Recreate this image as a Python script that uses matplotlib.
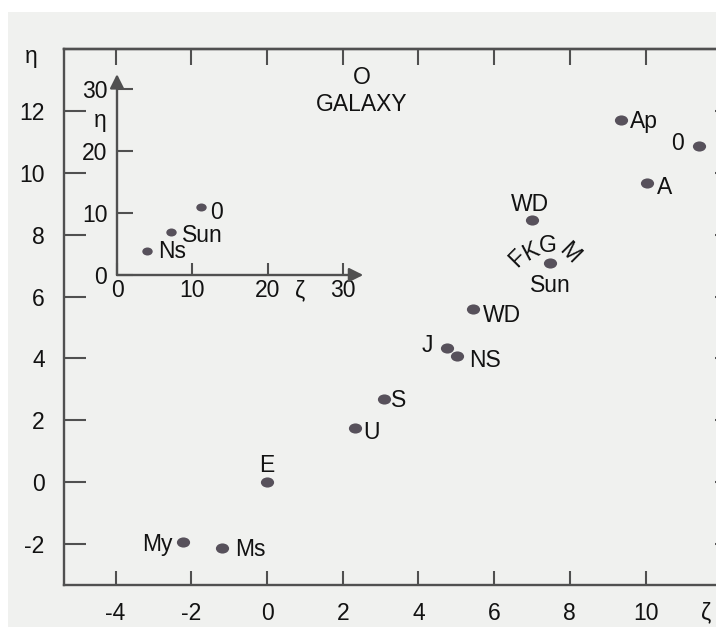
import numpy as np
import matplotlib
matplotlib.use('Agg')
import matplotlib.pyplot as plt
from matplotlib.path import Path
from matplotlib.patches import Rectangle

plt.rcParams['font.family'] = ['Liberation Sans', 'DejaVu Sans']
plt.rcParams['axes.unicode_minus'] = False

# ---------------- data ----------------
main_labels = ['My', 'Ms', 'E', 'U', 'S', 'J', 'NS', 'WD', 'WD', 'Sun', 'Ap', 'A', '0']
main_zeta = [-2.23, -1.20, 0.0, 2.32, 3.09, 4.75, 5.01, 5.45, 7.01, 7.48, 9.34, 10.03, 11.42]
main_eta = [-1.95, -2.15, 0.0, 1.74, 2.68, 4.33, 4.08, 5.59, 8.48, 7.08, 11.72, 9.69, 10.88]

galaxy_zeta = 2.51
galaxy_eta = 13.1

spectral_letters = ['F', 'K', 'G', 'M']

inset_labels = ['Ns', 'Sun', '0']
inset_zeta = [4.0, 7.2, 11.1]
inset_eta = [3.9, 6.9, 10.9]

main_xticks = [-4, -2, 0, 2, 4, 6, 8, 10]
main_yticks = [-2, 0, 2, 4, 6, 8, 10, 12]
inset_xticks = [0, 10, 20, 30]
inset_yticks = [0, 10, 20, 30]

# ---------------- styles / layout ----------------
W, H = 716, 627
BG = '#f0f1ef'
LINE = '#505050'
DOT = '#57515b'
TXT = '#121212'
FS = 16.5
LFS = 16.5

# label offsets in pixels (dx, dy downward to baseline), alignment
main_offsets = [(-10, 9, 'right'), (14, 8, 'left'), (0, -10, 'center'),
                (8, 11, 'left'), (7, 8, 'left'), (-14, 4, 'right'),
                (12, 11, 'left'), (10, 13, 'left'), (-2, -9, 'center'),
                (0, 29, 'center'), (9, 8, 'left'), (10, 11, 'left'),
                (-15, 4, 'right')]
inset_offsets = [(11, 7), (11, 10), (10, 12)]
spectral_offsets = [(-33, -5, 45), (-19, -12, 28), (-2, -18, 0), (19, -10, -45)]

fig = plt.figure(figsize=(W / 100, H / 100), dpi=100)
fig.patch.set_facecolor('white')
fig.patches.append(Rectangle((8 / W, 0), 1, (H - 12) / H, transform=fig.transFigure,
                             facecolor=BG, edgecolor='none', zorder=-10))

def px2fig(x, y):
    return x / W, (H - y) / H

# main axes: zeta 0 at px 267, 37.85 px/unit; eta 0 at py 482, 30.9 px/unit
x0px, xs = 267.0, 37.85
y0px, ys = 482.0, 30.9
xlim = (-5.36, 12.35)
ylim = (-3.33, 14.01)
left_px = x0px + xlim[0] * xs
bot_px = y0px - ylim[0] * ys
ax = fig.add_axes([left_px / W, (H - bot_px) / H,
                   (xlim[1] - xlim[0]) * xs / W, (ylim[1] - ylim[0]) * ys / H])
ax.set_xlim(*xlim)
ax.set_ylim(*ylim)
ax.set_facecolor('none')
for s in ax.spines.values():
    s.set_color(LINE)
    s.set_linewidth(1.7)
ax.set_xticks(main_xticks)
ax.set_yticks(main_yticks)
ax.set_xticklabels([str(v) for v in main_xticks])
ax.set_yticklabels([str(v) for v in main_yticks])
ax.tick_params(axis='x', direction='in', length=10, width=1.5, color=LINE,
               pad=12, labelsize=FS, labelcolor=TXT)
ax.tick_params(axis='y', direction='in', length=15.5, width=1.5, color=LINE,
               pad=14, labelsize=FS, labelcolor=TXT)

top = ax.secondary_xaxis('top')
top.set_xticks(main_xticks)
top.tick_params(direction='in', length=11.5, width=1.5, color=LINE, labeltop=False)
top.spines['top'].set_color(LINE)
top.spines['top'].set_linewidth(1.7)
right = ax.secondary_yaxis('right')
right.set_yticks(main_yticks)
right.tick_params(direction='in', length=14, width=1.5, color=LINE, labelright=False)
right.spines['right'].set_color(LINE)
right.spines['right'].set_linewidth(1.7)

ell = Path(Path.unit_circle().vertices * np.array([1.3, 1.0]), Path.unit_circle().codes)

ax.plot(main_zeta, main_eta, ls='none', marker=ell, markersize=9.5,
        color=DOT, markeredgewidth=0, zorder=3)
for lab, zx, ey, (dx, dy, ha) in zip(main_labels, main_zeta, main_eta, main_offsets):
    ax.annotate(lab, (zx, ey), xytext=(dx, -dy), textcoords='offset pixels',
                ha=ha, va='baseline', fontsize=LFS, color=TXT)

# spectral letters around the Sun
sun_i = main_labels.index('Sun')
for let, (dx, dy, rot) in zip(spectral_letters, spectral_offsets):
    ax.annotate(let, (main_zeta[sun_i], main_eta[sun_i]), xytext=(dx, -dy),
                textcoords='offset pixels', ha='center', va='center',
                rotation=rot, rotation_mode='anchor', fontsize=LFS, color=TXT)

# galaxy
ax.annotate('O', (galaxy_zeta, galaxy_eta), xytext=(0, 0), textcoords='offset pixels',
            ha='center', va='center', fontsize=LFS, color=TXT)
ax.annotate('GALAXY', (galaxy_zeta, galaxy_eta), xytext=(0, -27), textcoords='offset pixels',
            ha='center', va='center', fontsize=LFS, color=TXT)

# axis symbols
fx, fy = px2fig(31, 57)
fig.text(fx, fy, 'η', ha='center', va='center', fontsize=FS, color=TXT)
fx, fy = px2fig(706, 613)
fig.text(fx, fy, 'ζ', ha='center', va='center', fontsize=FS, color=TXT)

# ---------------- inset ----------------
ix0, ixs = 117.0, 7.53
iy0, iys = 275.0, 6.2
ilim = 35
iax = fig.add_axes([ix0 / W, (H - iy0) / H, ilim * ixs / W, ilim * iys / H])
iax.set_xlim(0, ilim)
iax.set_ylim(0, ilim)
iax.set_facecolor('none')
for s in iax.spines.values():
    s.set_visible(False)
iax.set_xticks(inset_xticks)
iax.set_yticks(inset_yticks)
iax.set_xticklabels([str(v) for v in inset_xticks])
iax.set_yticklabels([str(v) for v in inset_yticks])
iax.tick_params(axis='x', direction='in', length=9, width=1.5, color=LINE,
                pad=3, labelsize=FS, labelcolor=TXT)
iax.tick_params(axis='y', direction='in', length=11.5, width=1.5, color=LINE,
                pad=7, labelsize=FS, labelcolor=TXT)
arrow_kw = dict(arrowstyle='-|>,head_length=0.7,head_width=0.35', color=LINE, lw=1.7,
                shrinkA=0, shrinkB=0, mutation_scale=12)
iax.annotate('', xy=(0, 32.4), xytext=(0, 0), arrowprops=arrow_kw, annotation_clip=False)
iax.annotate('', xy=(32.7, 0), xytext=(0, 0), arrowprops=arrow_kw, annotation_clip=False)

iax.plot(inset_zeta, inset_eta, ls='none', marker=ell, markersize=7.5,
         color=DOT, markeredgewidth=0, zorder=3, clip_on=False)
for lab, zx, ey, (dx, dy) in zip(inset_labels, inset_zeta, inset_eta, inset_offsets):
    iax.annotate(lab, (zx, ey), xytext=(dx, -dy), textcoords='offset pixels',
                 ha='left', va='baseline', fontsize=LFS, color=TXT)

fx, fy = px2fig(100, 120)
fig.text(fx, fy, 'η', ha='center', va='center', fontsize=FS, color=TXT)
fx, fy = px2fig(300, 291)
fig.text(fx, fy, 'ζ', ha='center', va='center', fontsize=FS, color=TXT)

fig.savefig('out.png', dpi=100, facecolor=fig.get_facecolor())
